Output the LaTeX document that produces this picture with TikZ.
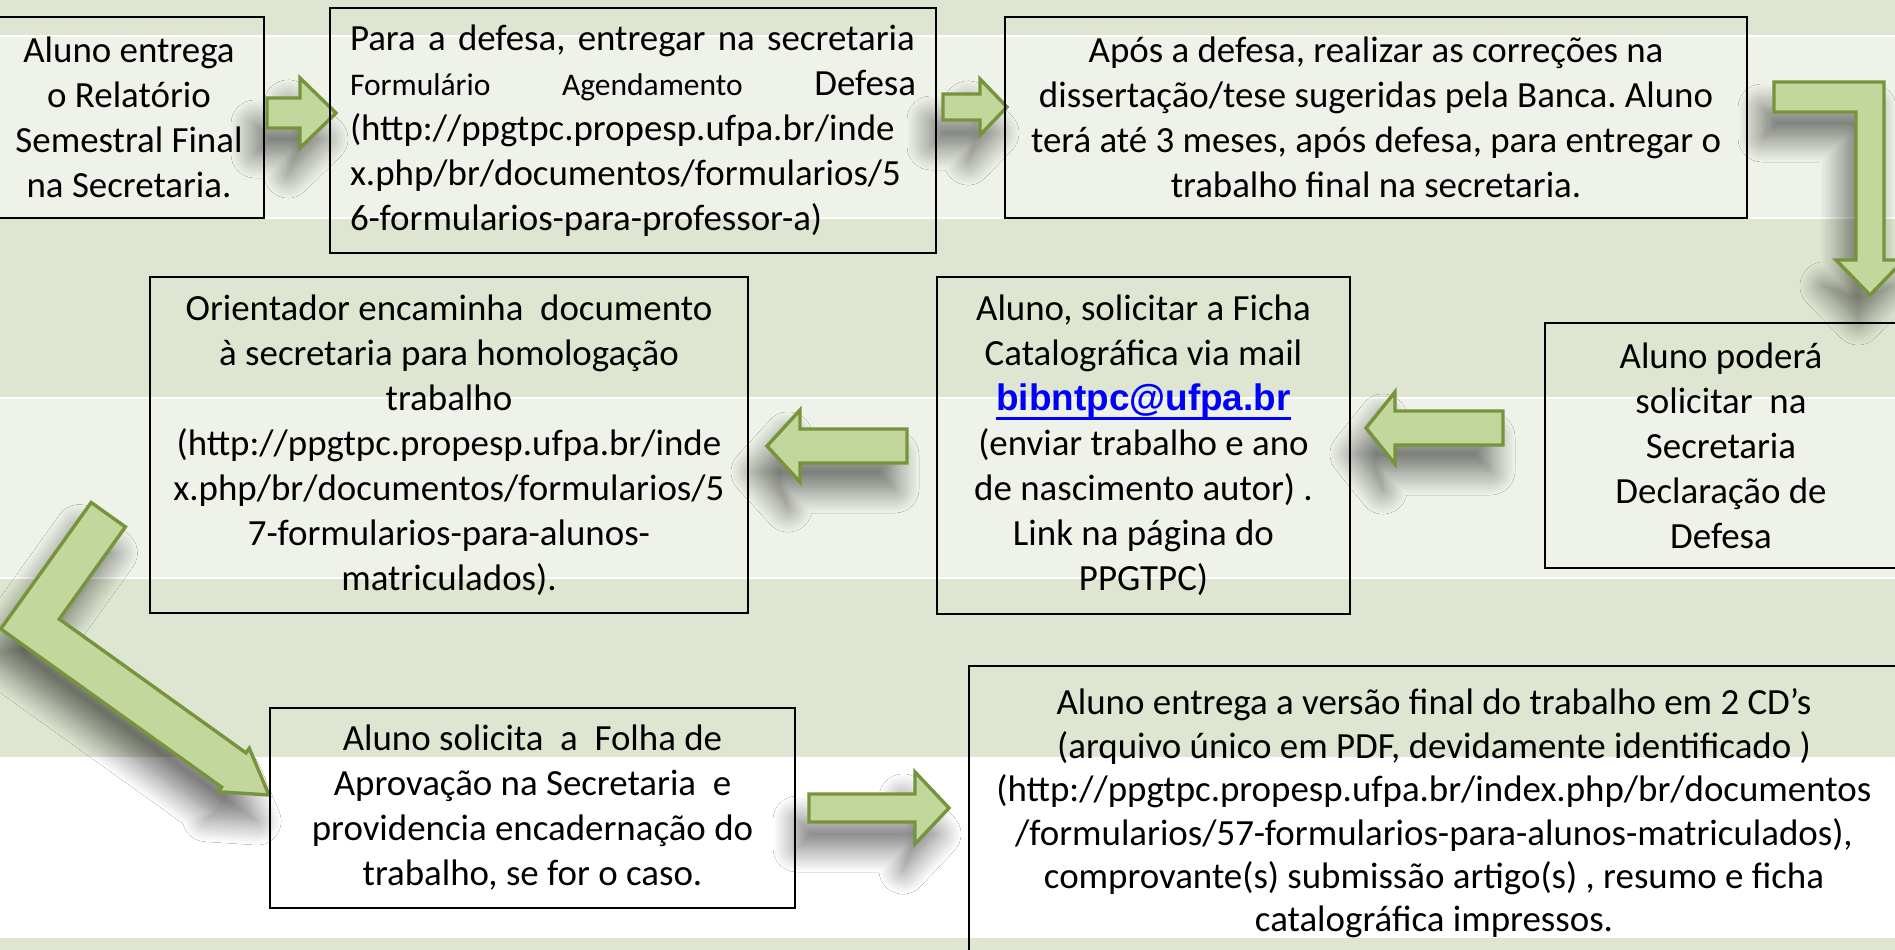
\documentclass[tikz,border=0pt]{standalone}
\usepackage{fontspec}
\setmainfont{Carlito}
\newfontfamily\mailfont{Liberation Sans}
\usetikzlibrary{positioning}
\usetikzlibrary{shadows.blur}
\definecolor{bandgreen}{HTML}{DEE6D1}
\definecolor{bandlight}{HTML}{EEF2E8}
\definecolor{arrowfill}{HTML}{C3D69B}
\definecolor{arrowline}{HTML}{77933C}
\definecolor{linkblue}{HTML}{0000FF}
\newcommand\mailline[1]{\leavevmode\setbox0\hbox{#1}\rlap{\rule[-9.3pt]{\wd0}{3.2pt}}\box0}
\tikzset{
  stepbox/.style={rectangle, draw, line width=2pt, inner sep=0pt, align=center,
    font=\fontsize{36.9}{45}\selectfont\frenchspacing},
  blockarrow/.style={fill=arrowfill, draw=arrowline, line width=3.4pt, line join=miter,
    blur shadow={shadow xshift=-12pt, shadow yshift=-26pt, shadow blur radius=24pt,
      shadow blur steps=16, shadow opacity=55}},
  band/.style={fill=#1, draw=none}
  }

\begin{document}
\begin{tikzpicture}[x=1pt, y=-1pt]
	\useasboundingbox (0,0) rectangle (1895,950);
	\clip (0,0) rectangle (1895,950);

	% Background
	\path[band=bandgreen] (0,0) rectangle (1895,950);
	\path[band=bandlight] (0,36) rectangle (1895,218);
	\path[band=bandlight] (0,398) rectangle (1895,578);
	\path[band=white] (0,757) rectangle (1895,938);
	\foreach \y in {36,218,398,578}
		\draw[white, line width=2pt] (0,\y) -- (1895,\y);

	% Arrows
	\draw[blockarrow] (267,98) -- (300,98) -- (300,78) -- (336,113) -- (300,148) -- (300,128) -- (267,128) -- cycle;
	\draw[blockarrow] (943,94) -- (980,94) -- (980,79) -- (1007,107) -- (980,135) -- (980,120) -- (943,120) -- cycle;
	\draw[blockarrow] (1774,82) -- (1884,82) -- (1884,260) -- (1904,260) -- (1870,295) -- (1836,260) -- (1856,260) -- (1856,112) -- (1774,112) -- cycle;
	\draw[blockarrow] (1503,411) -- (1395,411) -- (1395,392) -- (1366,428) -- (1395,464) -- (1395,445) -- (1503,445) -- cycle;
	\draw[blockarrow] (907,429) -- (800,429) -- (800,410) -- (767,446) -- (800,482) -- (800,463) -- (907,463) -- cycle;
	\draw[blockarrow] (91.2,502.5) -- (125.4,526.9) -- (59.3,619.1) -- (246,752.9) -- (249.3,748.3) -- (269,795) -- (218.3,791.7) -- (221.6,787.1) -- (0.7,628.9) -- cycle;
	\draw[blockarrow] (809,794) -- (915,794) -- (915,772) -- (949,808) -- (915,844) -- (915,822) -- (809,822) -- cycle;

	% Nodes
	\node[stepbox, minimum width=270pt, minimum height=201pt] (relatorio) at (129,117.5)
		{Aluno entrega\\o Relatório\\Semestral Final\\na Secretaria.};
	\node[stepbox, minimum width=606pt, minimum height=245pt, text width=566pt, align=left] (agendamento) at (633,130.5)
		{\leavevmode\hbox to\hsize{Para a defesa, entregar na secretaria}\\
		\leavevmode\hbox to\hsize{\fontsize{31.5}{45}\selectfont Formulário\hfill Agendamento\hfill\fontsize{36.9}{45}\selectfont Defesa}\\
		(http://ppgtpc.propesp.ufpa.br/inde\\
		x.php/br/documentos/formularios/5\\
		6-formularios-para-professor-a)};
	\node[stepbox, minimum width=742pt, minimum height=201pt] (correcoes) at (1376,117.5)
		{Após a defesa, realizar as correções na\\dissertação/tese sugeridas pela Banca. Aluno\\terá até 3 meses, após defesa, para entregar o\\trabalho final na secretaria.};
	\node[stepbox, minimum width=352pt, minimum height=245pt] (declaracao) at (1721,445.5)
		{Aluno poderá\\solicitar\ \ na\\Secretaria\\Declaração de\\Defesa};
	\node[stepbox, minimum width=413pt, minimum height=337pt] (ficha) at (1143.5,445.5)
		{Aluno, solicitar a Ficha\\Catalográfica via mail\\{\mailfont\bfseries\color{linkblue}\mailline{bibntpc@ufpa.br}}\\(enviar trabalho e ano\\de nascimento autor)~.\\Link na página do\\PPGTPC)};
	\node[stepbox, minimum width=598pt, minimum height=336pt] (homologacao) at (449,445)
		{Orientador encaminha\ \ documento\\à secretaria para homologação\\trabalho\\(http://ppgtpc.propesp.ufpa.br/inde\\x.php/br/documentos/formularios/5\\7-formularios-para-alunos-\\matriculados).};
	\node[stepbox, minimum width=525pt, minimum height=200pt] (aprovacao) at (532.5,808)
		{Aluno solicita\ \ a\ \ Folha de\\Aprovação na Secretaria\ \ e\\providencia encadernação do\\trabalho, se for o caso.};
	\node[stepbox, minimum width=930pt, minimum height=295pt, font=\fontsize{36.9}{43.4}\selectfont\frenchspacing] (versaofinal) at (1434,813.5)
		{Aluno entrega a versão final do trabalho em 2 CD’s\\(arquivo único em PDF, devidamente identificado~)\\(http://ppgtpc.propesp.ufpa.br/index.php/br/documentos\\/formularios/57-formularios-para-alunos-matriculados),\\comprovante(s) submissão artigo(s)~, resumo e ficha\\catalográfica impressos.};
\end{tikzpicture}
\end{document}
